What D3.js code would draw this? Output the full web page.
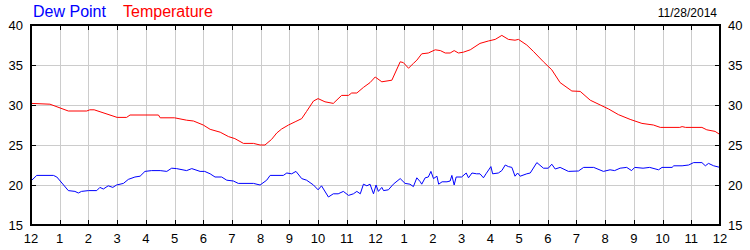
<!DOCTYPE html>
<html lang="en">
<head>
<meta charset="UTF-8">
<title>Dew Point / Temperature</title>
<script src="https://d3js.org/d3.v7.min.js"></script>
<style>
  body { margin: 0; background: #fff; }
  svg { display: block; font-family: "Liberation Sans", Arial, sans-serif; }
  .grid { stroke: #cccccc; stroke-width: 1; shape-rendering: crispEdges; }
  .tick { stroke: #000; stroke-width: 1; shape-rendering: crispEdges; }
  .frame { fill: none; stroke: #000; stroke-width: 2; shape-rendering: crispEdges; }
</style>
</head>
<body>
<svg id="chart" width="750" height="250"></svg>
<script>
// hours since midnight (0..24) and readings
const tempHours = [0, 0.66, 1.3, 1.94, 2.05, 2.2, 3.0, 3.33, 3.45, 4.44, 4.5, 5.0, 5.42, 5.66, 6.0, 6.24, 6.59,
  6.88, 7.1, 7.4, 7.75, 7.98, 8.15, 8.38, 8.56, 8.73, 8.97, 9.2, 9.43, 9.6, 9.84, 10.0, 10.24, 10.53,
  10.82, 11.06, 11.17, 11.35, 11.58, 11.81, 11.99, 12.22, 12.57, 12.86, 12.97, 13.15, 13.32, 13.44,
  13.61, 13.84, 14.08, 14.26, 14.43, 14.6, 14.74, 14.89, 15.06, 15.3, 15.64, 15.93, 16.17, 16.4,
  16.63, 16.86, 16.98, 17.27, 17.5, 17.85, 18.14, 18.43, 18.84, 19.13, 19.48, 19.83, 20.12, 20.46,
  20.87, 21.28, 21.68, 21.92, 22.6, 22.68, 22.8, 23.37, 23.54, 23.83, 24];
const tempValues = [30.2, 30.1, 29.25, 29.25, 29.4, 29.4, 28.45, 28.45, 28.75, 28.75, 28.4, 28.4, 28.1, 28.0, 27.5, 26.96, 26.6,
  26.05, 25.8, 25.2, 25.2, 25.0, 25.0, 25.7, 26.5, 27.0, 27.5, 27.9, 28.3, 29.2, 30.5, 30.8, 30.4, 30.2,
  31.2, 31.2, 31.5, 31.5, 32.2, 32.8, 33.5, 32.9, 33.1, 35.4, 35.3, 34.6, 35.2, 35.6,
  36.4, 36.5, 36.9, 36.8, 36.5, 36.5, 36.8, 36.5, 36.6, 36.9, 37.7, 38.0, 38.2, 38.7,
  38.2, 38.1, 38.2, 37.5, 36.7, 35.4, 34.4, 32.8, 31.75, 31.7, 30.6, 30.0, 29.5, 28.8,
  28.2, 27.7, 27.5, 27.2, 27.2, 27.3, 27.2, 27.2, 26.9, 26.7, 26.3];

const dewHours = [0, 0.2, 0.78, 0.9, 1.3, 1.53, 1.65, 1.76, 2.0, 2.29, 2.4, 2.52, 2.69, 2.85, 2.98, 3.22, 3.39, 3.62,
  3.8, 3.97, 4.2, 4.5, 4.73, 4.9, 5.07, 5.42, 5.6, 5.89, 6.05, 6.24, 6.41, 6.64, 6.82, 7.05, 7.22,
  7.75, 7.98, 8.21, 8.33, 8.79, 8.91, 9.08, 9.23, 9.43, 9.6, 9.84, 10.0, 10.12, 10.36, 10.53, 10.7,
  10.88, 11.06, 11.23, 11.35, 11.47, 11.58, 11.7, 11.81, 11.93, 12.02, 12.1, 12.22, 12.28, 12.45,
  12.62, 12.86, 13.03, 13.2, 13.32, 13.44, 13.56, 13.61, 13.73, 13.84, 13.93, 14.02, 14.14, 14.2,
  14.32, 14.49, 14.6, 14.66, 14.74, 14.81, 15.0, 15.16, 15.24, 15.36, 15.52, 15.64, 15.76, 15.85,
  16.02, 16.08, 16.28, 16.4, 16.52, 16.63, 16.75, 16.86, 16.95, 17.04, 17.27, 17.39, 17.62, 17.85,
  18.02, 18.14, 18.26, 18.43, 18.72, 19.07, 19.25, 19.6, 19.94, 20.17, 20.33, 20.52, 20.75, 20.92,
  21.03, 21.32, 21.55, 21.86, 21.98, 22.33, 22.39, 22.68, 22.91, 23.08, 23.37, 23.49, 23.6, 23.78, 24];
const dewValues = [20.5, 21.2, 21.2, 21.0, 19.3, 19.2, 19.0, 19.2, 19.3, 19.3, 19.7, 19.5, 19.9, 19.7, 20.0, 20.2, 20.7, 21.0,
  21.1, 21.7, 21.8, 21.8, 21.7, 22.1, 22.05, 21.8, 22.05, 21.7, 21.7, 21.4, 21.0, 21.0, 20.6, 20.5, 20.2,
  20.2, 20.0, 20.6, 21.2, 21.2, 21.5, 21.4, 21.7, 20.8, 20.6, 20.0, 19.4, 19.9, 18.5, 18.9, 18.9,
  19.2, 18.7, 18.9, 19.2, 18.9, 20.1, 19.9, 20.1, 18.9, 20.0, 19.2, 19.7, 19.3, 19.4,
  20.1, 20.8, 20.2, 20.1, 19.8, 20.9, 20.4, 20.1, 20.9, 21.0, 21.7, 20.8, 21.1, 20.1,
  20.4, 20.4, 20.5, 21.2, 20.0, 21.0, 21.0, 21.5, 20.9, 21.5, 21.4, 21.4, 20.9, 21.4,
  22.3, 21.4, 21.5, 21.8, 22.5, 22.3, 22.2, 21.1, 21.5, 21.1, 21.4, 21.5, 22.8, 22.1,
  22.1, 22.6, 22.0, 22.2, 21.7, 21.75, 22.2, 22.2, 21.7, 21.9, 21.8, 22.1, 22.2, 21.8,
  22.2, 22.1, 22.2, 21.9, 22.2, 22.2, 22.4, 22.4, 22.5, 22.8, 22.8, 22.4, 22.7, 22.4, 22.2];

const hourLabels = ['12', '1', '2', '3', '4', '5', '6', '7', '8', '9', '10', '11',
  '12', '1', '2', '3', '4', '5', '6', '7', '8', '9', '10', '11', '12'];
const yTicks = [15, 20, 25, 30, 35, 40];
const legendLabels = ['Dew Point', 'Temperature'];
const legendColors = ['#0000ff', '#ff0000'];
const dateLabel = '11/28/2014';

const svg = d3.select('#chart');
const plotLeft = 31, plotRight = 720, plotTop = 25, plotBottom = 225;

const x = d3.scaleLinear().domain([0, 24]).range([plotLeft, plotRight]);
const y = d3.scaleLinear().domain([15, 40]).range([plotBottom, plotTop]);
const hourTicks = d3.range(0, 25);

// grid
svg.append('g').selectAll('line').data(hourTicks.slice(1, -1)).join('line')
  .attr('class', 'grid')
  .attr('x1', d => Math.round(x(d)) + 0.5).attr('x2', d => Math.round(x(d)) + 0.5)
  .attr('y1', plotTop).attr('y2', plotBottom);
svg.append('g').selectAll('line').data(yTicks.slice(1, -1)).join('line')
  .attr('class', 'grid')
  .attr('x1', plotLeft).attr('x2', plotRight)
  .attr('y1', d => y(d) + 0.5).attr('y2', d => y(d) + 0.5);

// inner tick marks
const tickLen = 5;
const tg = svg.append('g');
hourTicks.forEach(d => {
  const px = Math.round(x(d)) + 0.5;
  tg.append('line').attr('class', 'tick').attr('x1', px).attr('x2', px).attr('y1', plotTop).attr('y2', plotTop + tickLen);
  tg.append('line').attr('class', 'tick').attr('x1', px).attr('x2', px).attr('y1', plotBottom).attr('y2', plotBottom - tickLen);
});
yTicks.forEach(d => {
  const py = y(d) + 0.5;
  tg.append('line').attr('class', 'tick').attr('x1', plotLeft).attr('x2', plotLeft + tickLen).attr('y1', py).attr('y2', py);
  tg.append('line').attr('class', 'tick').attr('x1', plotRight).attr('x2', plotRight - tickLen).attr('y1', py).attr('y2', py);
});

// series
const tempData = tempHours.map((h, i) => [h, tempValues[i]]);
const dewData = dewHours.map((h, i) => [h, dewValues[i]]);
const line = d3.line().x(d => x(d[0])).y(d => y(d[1]));

svg.append('path').datum(dewData)
  .attr('d', line).attr('fill', 'none').attr('stroke', legendColors[0]).attr('stroke-width', 1);
svg.append('path').datum(tempData)
  .attr('d', line).attr('fill', 'none').attr('stroke', legendColors[1]).attr('stroke-width', 1);

// frame
svg.append('rect').attr('class', 'frame')
  .attr('x', plotLeft).attr('y', plotTop).attr('width', plotRight - plotLeft).attr('height', plotBottom - plotTop);

// y labels both sides
svg.append('g').selectAll('text').data(yTicks).join('text')
  .attr('x', plotLeft - 8).attr('y', d => y(d)).attr('dy', '0.35em')
  .attr('text-anchor', 'end').attr('font-size', '13px').attr('fill', '#000')
  .text(d => d);
svg.append('g').selectAll('text').data(yTicks).join('text')
  .attr('x', plotRight + 8).attr('y', d => y(d)).attr('dy', '0.35em')
  .attr('text-anchor', 'start').attr('font-size', '13px').attr('fill', '#000')
  .text(d => d);

// x labels
svg.append('g').selectAll('text').data(hourTicks).join('text')
  .attr('x', d => x(d)).attr('y', 243)
  .attr('text-anchor', 'middle').attr('font-size', '13px').attr('fill', '#000')
  .text(d => hourLabels[d]);

// legend
svg.append('text').attr('x', 33).attr('y', 17).attr('font-size', '16px')
  .attr('fill', legendColors[0]).text(legendLabels[0]);
svg.append('text').attr('x', 123).attr('y', 17).attr('font-size', '16px')
  .attr('fill', legendColors[1]).text(legendLabels[1]);

// date
svg.append('text').attr('x', 717).attr('y', 17).attr('text-anchor', 'end')
  .attr('font-size', '12px').attr('fill', '#000').text(dateLabel);
</script>
</body>
</html>
